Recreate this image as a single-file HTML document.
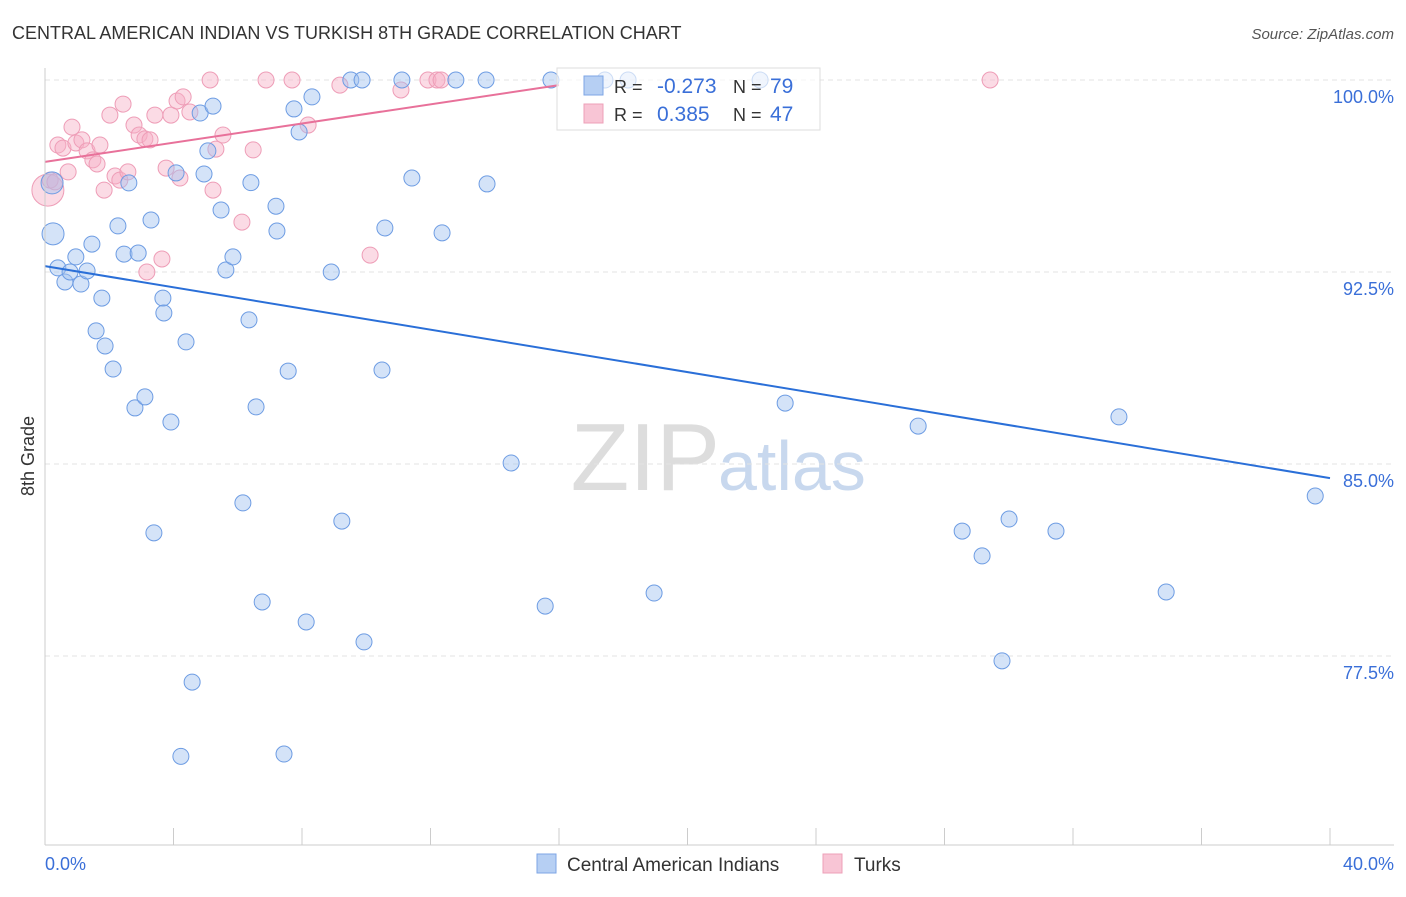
<!DOCTYPE html>
<html><head><meta charset="utf-8"><style>
body{margin:0;background:#fff;font-family:"Liberation Sans",sans-serif;}
svg text{font-family:"Liberation Sans",sans-serif;}
</style></head><body>
<svg id="chart" width="1406" height="892">
<text x="12" y="39" font-size="18" fill="#333">CENTRAL AMERICAN INDIAN VS TURKISH 8TH GRADE CORRELATION CHART</text>
<text x="1394" y="39" font-size="15" fill="#555" text-anchor="end" font-style="italic">Source: ZipAtlas.com</text>
<text x="34" y="456" font-size="18" fill="#333" transform="rotate(-90 34 456)" text-anchor="middle">8th Grade</text>
<text x="720" y="490" font-size="96" fill="#ddd" text-anchor="end" font-family="Liberation Serif">ZIP</text>
<text x="718" y="490" font-size="70" fill="#c8d8ee">atlas</text>
<g id="grid"></g><g id="marks"></g>
<line x1="45" y1="68" x2="45" y2="845" stroke="#ccc"/>
<line x1="45" y1="845" x2="1394" y2="845" stroke="#ccc"/>
<text x="45" y="870" font-size="18" fill="#3a6fd8">0.0%</text>
<text x="1394" y="870" font-size="18" fill="#3a6fd8" text-anchor="end">40.0%</text>
<g>
<rect x="557" y="68" width="263" height="62" fill="#fff" fill-opacity="0.65" stroke="#ddd"/>
<rect x="584" y="76" width="19" height="19" fill="#b6cff3" stroke="#7da6e6"/>
<rect x="584" y="104" width="19" height="19" fill="#f8c5d5" stroke="#eea0b8"/>
<text x="614" y="93" font-size="18" fill="#333">R = </text><text x="657" y="93" font-size="21" fill="#3a6fd8">-0.273</text>
<text x="733" y="93" font-size="18" fill="#333">N = </text><text x="770" y="93" font-size="21" fill="#3a6fd8">79</text>
<text x="614" y="121" font-size="18" fill="#333">R = </text><text x="657" y="121" font-size="21" fill="#3a6fd8">0.385</text>
<text x="733" y="121" font-size="18" fill="#333">N = </text><text x="770" y="121" font-size="21" fill="#3a6fd8">47</text>
</g>
<g>
<rect x="537" y="854" width="19" height="19" fill="#b6cff3" stroke="#7da6e6"/>
<text x="567" y="871" font-size="19" fill="#333">Central American Indians</text></g>
<g>
<rect x="823" y="854" width="19" height="19" fill="#f8c5d5" stroke="#eea0b8"/>
<text x="854" y="871" font-size="19" fill="#333">Turks</text></g>
</svg>
<script>
const yTicks=[100,92.5,85,77.5];
const yTickLabels=["100.0%","92.5%","85.0%","77.5%"];
const xTicks=[0,4,8,12,16,20,24,28,32,36,40];
const blueX=[0.22,0.25,0.40,0.62,0.78,0.96,1.12,1.31,1.46,1.59,1.77,1.87,2.12,2.27,2.46,2.61,2.80,2.90,3.11,3.30,3.39,3.67,3.70,3.92,4.08,4.23,4.39,4.58,4.83,4.95,5.07,5.23,5.48,5.63,5.85,6.16,6.35,6.41,6.57,6.76,7.19,7.22,7.57,7.75,7.91,8.13,8.31,8.91,9.24,9.52,9.87,9.93,10.49,10.58,11.11,11.42,12.36,12.79,13.73,13.76,14.51,15.57,15.75,17.43,18.15,18.96,22.26,23.04,27.18,28.55,29.17,29.79,30.01,31.47,33.43,34.90,39.54,7.44];
const blueY=[95.98,93.99,92.66,92.11,92.50,93.09,92.03,92.54,93.59,90.20,91.48,89.61,88.71,94.30,93.20,95.98,87.19,93.24,87.62,94.53,82.31,91.48,90.90,86.64,96.37,73.58,89.77,76.48,98.71,96.33,97.23,98.98,94.92,92.58,93.09,83.48,90.63,95.99,87.23,79.61,95.07,94.10,88.63,98.87,97.97,78.83,99.34,92.50,82.77,100,100,78.05,88.67,94.22,100,96.17,94.03,100,100,95.94,85.04,79.45,100,100,100,79.96,100,87.38,86.48,82.38,81.41,77.31,82.85,82.38,86.84,80.00,83.75,73.67];
const pinkX=[0.09,0.16,0.31,0.40,0.56,0.72,0.84,0.96,1.15,1.31,1.49,1.62,1.71,1.84,2.02,2.18,2.33,2.43,2.58,2.77,2.93,3.11,3.17,3.27,3.42,3.64,3.77,3.92,4.11,4.20,4.30,4.51,5.14,5.23,5.32,5.54,6.13,6.48,6.88,7.69,8.19,9.18,10.12,11.08,11.92,12.20,12.33,29.42];
const pinkY=[95.70,96.09,96.02,97.46,97.34,96.41,98.16,97.54,97.66,97.23,96.88,96.72,97.46,95.70,98.63,96.25,96.09,99.06,96.41,98.24,97.85,97.70,92.50,97.66,98.63,93.01,96.56,98.63,99.18,96.17,99.34,98.75,100,95.70,97.30,97.85,94.45,97.27,100,100,98.24,99.80,93.16,99.61,100,100,100,100];
const blueTrend=[[0,92.73],[40,84.45]];
const pinkTrend=[[0,96.8],[16,99.8]];
const X=v=>45+v/40*1285, Y=v=>80+(100-v)*25.6;
const NS='http://www.w3.org/2000/svg';
const grid=document.getElementById('grid'), marks=document.getElementById('marks');
function mk(tag,attrs,parent){const e=document.createElementNS(NS,tag);for(const k in attrs)e.setAttribute(k,attrs[k]);parent.appendChild(e);return e;}
yTicks.forEach((t,i)=>{
 const l=mk('line',{x1:45,x2:1394,y1:Y(t),y2:Y(t),stroke:'#e3e3e3','stroke-dasharray':'5,4'},grid);
 
 
 const tx=mk('text',{x:1394,y:Y(t)+23,'font-size':18,fill:'#3a6fd8','text-anchor':'end'},grid);
 tx.textContent=yTickLabels[i];
 
 
});
xTicks.forEach(t=>{
 const l=mk('line',{x1:X(t),x2:X(t),y1:828,y2:845,stroke:'#ccc'},grid);
 
 
});
pinkX.forEach((v,i)=>{
 const c=mk('circle',{cx:X(v),cy:Y(pinkY[i]),r:i==0?16:8,fill:'rgba(246,176,198,0.45)',stroke:'#ee9db7','stroke-width':1},marks);
 
 
});
blueX.forEach((v,i)=>{
 const c=mk('circle',{cx:X(v),cy:Y(blueY[i]),r:(i==0||i==1)?11:8,fill:'rgba(160,192,240,0.45)',stroke:'#6d9ce3','stroke-width':1},marks);
 
 
});
const bl=mk('line',{x1:X(blueTrend[0][0]),y1:Y(blueTrend[0][1]),x2:X(blueTrend[1][0]),y2:Y(blueTrend[1][1]),stroke:'#2a6fd8','stroke-width':2},marks);


const pl=mk('line',{x1:X(pinkTrend[0][0]),y1:Y(pinkTrend[0][1]),x2:X(pinkTrend[1][0]),y2:Y(pinkTrend[1][1]),stroke:'#e8719a','stroke-width':2},marks);


</script>
</body></html>
